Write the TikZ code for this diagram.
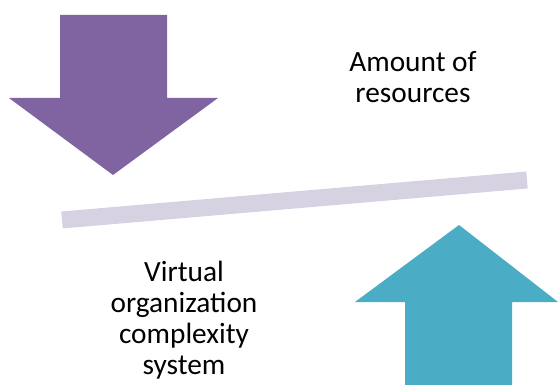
\documentclass[tikz,border=0pt]{standalone}
\usepackage{fontspec}
\setmainfont{Carlito}
\definecolor{downpurple}{HTML}{8064A2}
\definecolor{upblue}{HTML}{4BACC6}
\definecolor{beamgray}{HTML}{D6D2E2}
\begin{document}
\begin{tikzpicture}[x=0.75pt, y=-0.75pt]
\tikzset{lbl/.style={align=center, inner sep=0pt, font=\fontsize{22}{23.3}\selectfont}}
\useasboundingbox (0,0) rectangle (558,385);
% down arrow
\fill[downpurple] (60,15) -- (167,15) -- (167,98) -- (218,98) -- (113,175) -- (9,98) -- (60,98) -- cycle;
% up arrow
\fill[upblue] (405,385) -- (405,302) -- (355,302) -- (459,225) -- (558,302) -- (512,302) -- (512,385) -- cycle;
% beam
\draw[beamgray, line width=12.75pt] (62,220) -- (527,180);
\node[lbl] (res) at (413,77) {Amount of\\resources};
\node[lbl] (vo) at (184,320) {Virtual\\organization\\complexity\\system};
\end{tikzpicture}
\end{document}
